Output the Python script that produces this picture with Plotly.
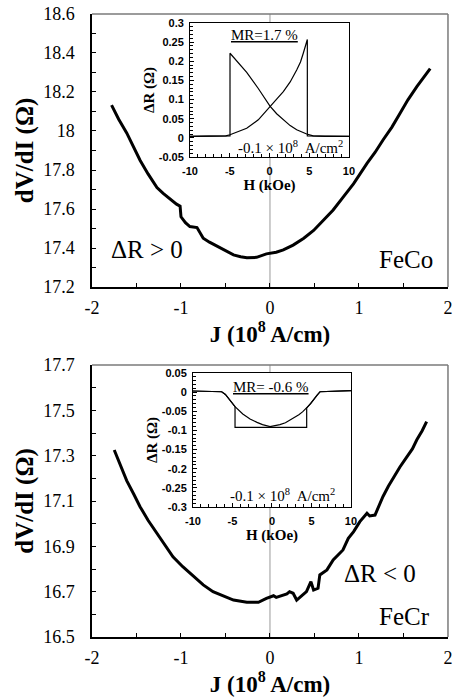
import plotly.graph_objects as go

# ---- main FeCo curve: dV/dI vs J ----
feco_J = [-1.78, -1.70, -1.61, -1.53, -1.46, -1.37, -1.27, -1.20, -1.12, -1.05, -1.01, -1.0,
          -0.95, -0.90, -0.82, -0.78, -0.75, -0.68, -0.60, -0.50, -0.41, -0.33, -0.26, -0.15,
          -0.04, 0.07, 0.15, 0.26, 0.38, 0.49, 0.60, 0.71, 0.82, 0.94, 1.09, 1.18, 1.27, 1.37,
          1.46, 1.55, 1.65, 1.73, 1.80]
feco_V = [18.133, 18.06, 17.99, 17.915, 17.85, 17.78, 17.71, 17.68, 17.65, 17.625, 17.615, 17.56,
          17.53, 17.51, 17.505, 17.47, 17.45, 17.43, 17.41, 17.385, 17.365, 17.355, 17.35, 17.352,
          17.37, 17.378, 17.39, 17.415, 17.45, 17.49, 17.54, 17.595, 17.66, 17.73, 17.834, 17.89,
          17.954, 18.02, 18.09, 18.16, 18.227, 18.28, 18.32]

# ---- main FeCr curve ----
fecr_J = [-1.75, -1.68, -1.61, -1.53, -1.46, -1.37, -1.27, -1.18, -1.09, -0.98, -0.86, -0.75,
          -0.64, -0.52, -0.41, -0.26, -0.13, -0.04, 0.04, 0.07, 0.19, 0.22, 0.26, 0.30, 0.41,
          0.46, 0.49, 0.54, 0.56, 0.64, 0.71, 0.82, 0.88, 0.94, 1.01, 1.09, 1.12, 1.18, 1.27,
          1.33, 1.39, 1.46, 1.54, 1.60, 1.65, 1.71, 1.76]
fecr_V = [17.325, 17.255, 17.19, 17.13, 17.075, 17.015, 16.957, 16.905, 16.854, 16.81, 16.766,
          16.73, 16.70, 16.68, 16.663, 16.653, 16.653, 16.67, 16.682, 16.675, 16.69, 16.70, 16.693,
          16.663, 16.70, 16.744, 16.707, 16.715, 16.774, 16.796, 16.84, 16.884, 16.935, 16.965,
          17.009, 17.046, 17.034, 17.038, 17.12, 17.165, 17.207, 17.25, 17.296, 17.33, 17.37,
          17.41, 17.45]

# ---- FeCo inset: MR loops ----
feco_H_a = [-10, -7, -4.97, -4.97, -4.0, -2.87, -1.41, 0.06, 0.9, 1.74, 2.6, 3.42, 4.1, 4.68, 5.5, 7, 10]
feco_R_a = [0.004, 0.005, 0.005, 0.221, 0.197, 0.171, 0.129, 0.083, 0.063, 0.047, 0.032, 0.021, 0.015, 0.010, 0.005, 0.004, 0.004]
feco_H_b = [-10, -7, -5.5, -4.97, -4.0, -2.87, -1.41, 0.06, 0.9, 1.74, 2.6, 3.42, 3.9, 4.25, 4.55, 4.76, 4.76, 7, 10]
feco_R_b = [0.004, 0.004, 0.005, 0.008, 0.015, 0.025, 0.047, 0.083, 0.101, 0.121, 0.146, 0.177, 0.198, 0.221, 0.240, 0.257, 0.005, 0.004, 0.004]

# ---- FeCr inset: MR loops ----
fecr_H_a = [-10, -6.37, -5.9, -5.5, -5.1, -4.68, -3.7, -2.78, -1.9, -1.2, -0.25, 1.0, 1.7, 2.28,
            2.9, 3.4, 3.9, 4.39, 4.9, 5.3, 5.7, 6.08, 10]
fecr_R_a = [0.003, 0.001, -0.006, -0.016, -0.027, -0.038, -0.057, -0.070, -0.079, -0.085, -0.090,
            -0.085, -0.080, -0.073, -0.066, -0.059, -0.051, -0.042, -0.030, -0.019, -0.008, 0.001, 0.004]
fecr_H_b = [-10, -6.37, -5.9, -5.5, -5.1, -4.68, -4.68, 4.39, 4.39, 4.9, 5.3, 5.7, 6.08, 10]
fecr_R_b = [0.003, 0.001, -0.006, -0.016, -0.027, -0.038, -0.092, -0.092, -0.042, -0.030, -0.019, -0.008, 0.001, 0.004]

# ---- tick labels ----
J_ticks = [-2, -1, 0, 1, 2]
J_text = ["-2", "-1", "0", "1", "2"]
feco_yticks = [17.2, 17.4, 17.6, 17.8, 18.0, 18.2, 18.4, 18.6]
feco_ytext = ["17.2", "17.4", "17.6", "17.8", "18", "18.2", "18.4", "18.6"]
fecr_yticks = [16.5, 16.7, 16.9, 17.1, 17.3, 17.5, 17.7]
fecr_ytext = ["16.5", "16.7", "16.9", "17.1", "17.3", "17.5", "17.7"]
H_ticks = [-10, -5, 0, 5, 10]
H_text = ["-10", "-5", "0", "5", "10"]
feco_in_yticks = [-0.05, 0, 0.05, 0.1, 0.15, 0.2, 0.25, 0.3]
feco_in_ytext = ["-0.05", "0", "0.05", "0.1", "0.15", "0.2", "0.25", "0.3"]
fecr_in_yticks = [-0.3, -0.25, -0.2, -0.15, -0.1, -0.05, 0, 0.05]
fecr_in_ytext = ["-0.3", "-0.25", "-0.2", "-0.15", "-0.1", "-0.05", "0", "0.05"]

SERIF = "Liberation Serif"
SANS = "Liberation Sans"

fig = go.Figure()
main_line = dict(color="black", width=3)
in_line = dict(color="black", width=1.2)

fig.add_trace(go.Scatter(x=feco_J, y=feco_V, mode="lines", line=main_line, xaxis="x", yaxis="y"))
fig.add_trace(go.Scatter(x=fecr_J, y=fecr_V, mode="lines", line=main_line, xaxis="x2", yaxis="y2"))
fig.add_trace(go.Scatter(x=feco_H_a, y=feco_R_a, mode="lines", line=in_line, xaxis="x3", yaxis="y3"))
fig.add_trace(go.Scatter(x=feco_H_b, y=feco_R_b, mode="lines", line=in_line, xaxis="x3", yaxis="y3"))
fig.add_trace(go.Scatter(x=fecr_H_a, y=fecr_R_a, mode="lines", line=in_line, xaxis="x4", yaxis="y4"))
fig.add_trace(go.Scatter(x=fecr_H_b, y=fecr_R_b, mode="lines", line=in_line, xaxis="x4", yaxis="y4"))

xdom = [0.2004, 0.976]
top_ydom = [0.5894, 0.980]
bot_ydom = [0.0887, 0.4778]
in1_x = [0.414, 0.7603]
in1_y = [0.7754, 0.9671]
in2_x = [0.4205, 0.7647]
in2_y = [0.2747, 0.4664]

def main_x(anchor):
    return dict(domain=xdom, anchor=anchor, range=[-2, 2], tickvals=J_ticks, ticktext=J_text,
                ticks="inside", ticklen=4, tickcolor="black", showline=True, linecolor="black",
                linewidth=1.5, showgrid=False, zeroline=False, automargin=False,
                tickfont=dict(family=SERIF, size=18, color="black"), ticklabelstandoff=4,
                minor=dict(dtick=0.5, tick0=0, ticks="inside", ticklen=4, tickcolor="black"),
                title=dict(text="<b>J (10<sup>8</sup> A/cm)</b>", font=dict(family=SERIF, size=23, color="black"), standoff=4))

def main_y(anchor, dom, rng, tv, tt):
    return dict(domain=dom, anchor=anchor, range=rng, tickvals=tv, ticktext=tt,
                ticks="inside", ticklen=4, tickcolor="black", showline=True, linecolor="black",
                linewidth=1.5, showgrid=False, zeroline=False, ticklabelstandoff=12, automargin=False,
                tickfont=dict(family=SERIF, size=18, color="black"),
                minor=dict(dtick=0.1, tick0=rng[0], ticks="inside", ticklen=4, tickcolor="black"),
                title=dict(text="<b>dV/dI (Ω)</b>", font=dict(family=SERIF, size=25, color="black"), standoff=2))

def in_x(anchor, dom):
    return dict(domain=dom, anchor=anchor, range=[-10, 10], tickvals=H_ticks, ticktext=H_text,
                ticks="inside", ticklen=4, tickcolor="black", showline=True, mirror=True,
                linecolor="black", linewidth=1, showgrid=False, zeroline=False, automargin=False,
                tickfont=dict(family=SANS, size=11, color="black", weight="bold"), ticklabelstandoff=4,
                minor=dict(dtick=1, tick0=0, ticks="inside", ticklen=2.5, tickcolor="black"),
                title=dict(text="<b>H (kOe)</b>", font=dict(family=SERIF, size=15, color="black"), standoff=0))

def in_y(anchor, dom, rng, tv, tt):
    return dict(domain=dom, anchor=anchor, range=rng, tickvals=tv, ticktext=tt,
                ticks="inside", ticklen=4, tickcolor="black", showline=True, mirror=True,
                linecolor="black", linewidth=1, showgrid=False, zeroline=False, automargin=False,
                tickfont=dict(family=SANS, size=11, color="black", weight="bold"), ticklabelstandoff=3,
                minor=dict(dtick=0.01, tick0=0, ticks="inside", ticklen=2.5, tickcolor="black"),
                title=dict(text="<b>ΔR (Ω)</b>", font=dict(family=SERIF, size=15, color="black"), standoff=0))

fig.update_layout(
    width=459, height=699, margin=dict(l=0, r=0, t=0, b=0, autoexpand=False),
    paper_bgcolor="white", plot_bgcolor="white", showlegend=False,
    xaxis=main_x("y"), yaxis=main_y("x", top_ydom, [17.2, 18.6], feco_yticks, feco_ytext),
    xaxis2=main_x("y2"), yaxis2=main_y("x2", bot_ydom, [16.5, 17.7], fecr_yticks, fecr_ytext),
    xaxis3=in_x("y3", in1_x), yaxis3=in_y("x3", in1_y, [-0.05, 0.3], feco_in_yticks, feco_in_ytext),
    xaxis4=in_x("y4", in2_x), yaxis4=in_y("x4", in2_y, [-0.3, 0.05], fecr_in_yticks, fecr_in_ytext),
)

shapes = []
for xr, yr in (("x", "y"), ("x2", "y2")):
    shapes.append(dict(type="line", xref=xr, x0=0, x1=0, yref=yr + " domain", y0=0, y1=1,
                       line=dict(color="#9a9a9a", width=1), layer="below"))
    shapes.append(dict(type="line", xref=xr + " domain", x0=0, x1=1, yref=yr + " domain", y0=1, y1=1,
                       line=dict(color="#7a7a7a", width=1.5)))
    shapes.append(dict(type="line", xref=xr + " domain", x0=1, x1=1, yref=yr + " domain", y0=0, y1=1,
                       line=dict(color="#7a7a7a", width=1.5)))
fig.update_layout(shapes=shapes)

big = dict(family=SERIF, size=25, color="black")
small = dict(family=SERIF, size=15, color="black")
anns = [
    dict(text="ΔR > 0", x=-1.38, y=17.39, xref="x", yref="y", font=big),
    dict(text="FeCo", x=1.53, y=17.34, xref="x", yref="y", font=big),
    dict(text="ΔR < 0", x=1.236, y=16.78, xref="x2", yref="y2", font=big),
    dict(text="FeCr", x=1.506, y=16.59, xref="x2", yref="y2", font=big),
    dict(text="<u>MR=1.7 %</u>", x=-0.57, y=0.269, xref="x3", yref="y3", font=small),
    dict(text="-0.1 × 10<sup>8</sup>  A/cm<sup>2</sup>", x=2.58, y=-0.024, xref="x3", yref="y3", font=small),
    dict(text="<u>MR= -0.6 %</u>", x=-0.13, y=0.0135, xref="x4", yref="y4", font=small),
    dict(text="-0.1 × 10<sup>8</sup>  A/cm<sup>2</sup>", x=1.27, y=-0.268, xref="x4", yref="y4", font=small),
]
for a in anns:
    a["showarrow"] = False
fig.update_layout(annotations=anns)

fig.write_html("out.html", config={"displayModeBar": False},
               post_script="document.body.style.margin='0';document.body.style.overflow='hidden';")
